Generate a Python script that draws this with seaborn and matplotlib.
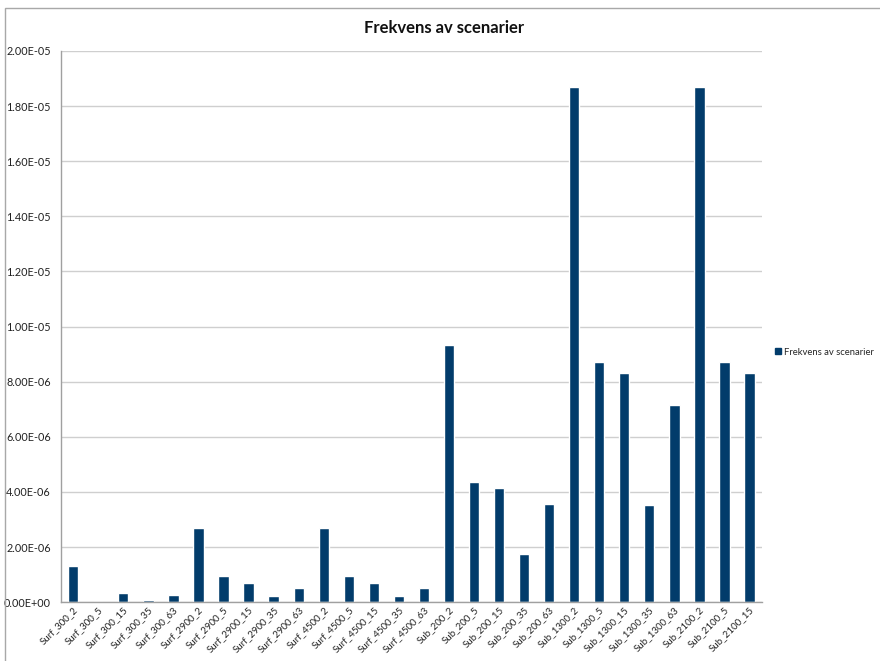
import matplotlib
matplotlib.use("Agg")
import matplotlib.pyplot as plt
import matplotlib.patches as mpatches
from matplotlib.ticker import FixedLocator, FuncFormatter
import seaborn as sns
import pandas as pd

scenarios = [
    "Surf_300_2", "Surf_300_5", "Surf_300_15", "Surf_300_35", "Surf_300_63",
    "Surf_2900_2", "Surf_2900_5", "Surf_2900_15", "Surf_2900_35", "Surf_2900_63",
    "Surf_4500_2", "Surf_4500_5", "Surf_4500_15", "Surf_4500_35", "Surf_4500_63",
    "Sub_200_2", "Sub_200_5", "Sub_200_15", "Sub_200_35", "Sub_200_63",
    "Sub_1300_2", "Sub_1300_5", "Sub_1300_15", "Sub_1300_35", "Sub_1300_63",
    "Sub_2100_2", "Sub_2100_5", "Sub_2100_15",
]
frequency = [
    1.31e-6, 0.0, 0.34e-6, 0.09e-6, 0.25e-6,
    2.68e-6, 0.94e-6, 0.70e-6, 0.22e-6, 0.51e-6,
    2.68e-6, 0.94e-6, 0.70e-6, 0.22e-6, 0.51e-6,
    9.34e-6, 4.35e-6, 4.13e-6, 1.74e-6, 3.56e-6,
    1.87e-5, 8.71e-6, 8.30e-6, 3.51e-6, 7.14e-6,
    1.87e-5, 8.71e-6, 8.30e-6,
]
y_ticks = [0, 2e-6, 4e-6, 6e-6, 8e-6, 1e-5, 1.2e-5, 1.4e-5, 1.6e-5, 1.8e-5, 2e-5]

series_name = "Frekvens av scenarier"
bar_color = "#023c6b"

df = pd.DataFrame({"scenario": scenarios, "freq": frequency})

sns.set_style("white")
plt.rcParams["font.family"] = ["Lato", "DejaVu Sans"]

fig = plt.figure(figsize=(8.8, 6.61), dpi=100)
ax = fig.add_axes([0.069, 0.089, 0.797, 0.834])

sns.barplot(data=df, x="scenario", y="freq", color=bar_color, width=0.41,
            saturation=1, ax=ax)

n = len(scenarios)
ax.set_xlim(-0.5, n - 0.5)
ax.set_ylim(0, 2e-5)
ax.yaxis.set_major_locator(FixedLocator(y_ticks))


def sci_fmt(v, _):
    if v == 0:
        return "0.00E+00"
    s = f"{v:.2E}"
    mant, exp = s.split("E")
    sign = exp[0]
    return f"{mant}E{sign}{abs(int(exp)):02d}"


ax.yaxis.set_major_formatter(FuncFormatter(sci_fmt))
ax.grid(axis="y", color="#cfcfcf", linewidth=1.0)
ax.set_axisbelow(True)

# category labels centred under bars, tick marks between categories
ax.set_xticks(range(n))
ax.set_xticklabels(scenarios, rotation=45, ha="right", rotation_mode="anchor",
                   fontsize=7.0, color="#222222")
ax.tick_params(axis="x", which="major", length=0, pad=2)
ax.set_xticks([i - 0.5 for i in range(n + 1)], minor=True)
ax.tick_params(axis="x", which="minor", length=5, color="#a0a0a0", width=1,
               direction="out")
ax.tick_params(axis="y", length=5, color="#a0a0a0", width=1, direction="out",
               labelsize=7.8, labelcolor="#222222", pad=2)

for side in ("top", "right"):
    ax.spines[side].set_visible(False)
for side in ("left", "bottom"):
    ax.spines[side].set_color("#a0a0a0")
    ax.spines[side].set_linewidth(1.0)

ax.set_xlabel("")
ax.set_ylabel("")

fig.text(0.505, 0.957, series_name, ha="center", va="center",
         fontsize=12, fontweight="bold", color="#111111")

handle = mpatches.Patch(color=bar_color, label=series_name)
fig.legend(handles=[handle], loc="center left", bbox_to_anchor=(0.881, 0.467),
           frameon=False, fontsize=6.8, handlelength=0.6, handleheight=0.6,
           handletextpad=0.35, borderpad=0, borderaxespad=0)

# outer chart frame (top and left edges visible)
fig.patches.append(mpatches.Rectangle((0.006, -0.05), 1.1, 1.038,
                                      transform=fig.transFigure, fill=False,
                                      edgecolor="#a8a8a8", linewidth=1.0))

fig.savefig("out.png", dpi=100)
